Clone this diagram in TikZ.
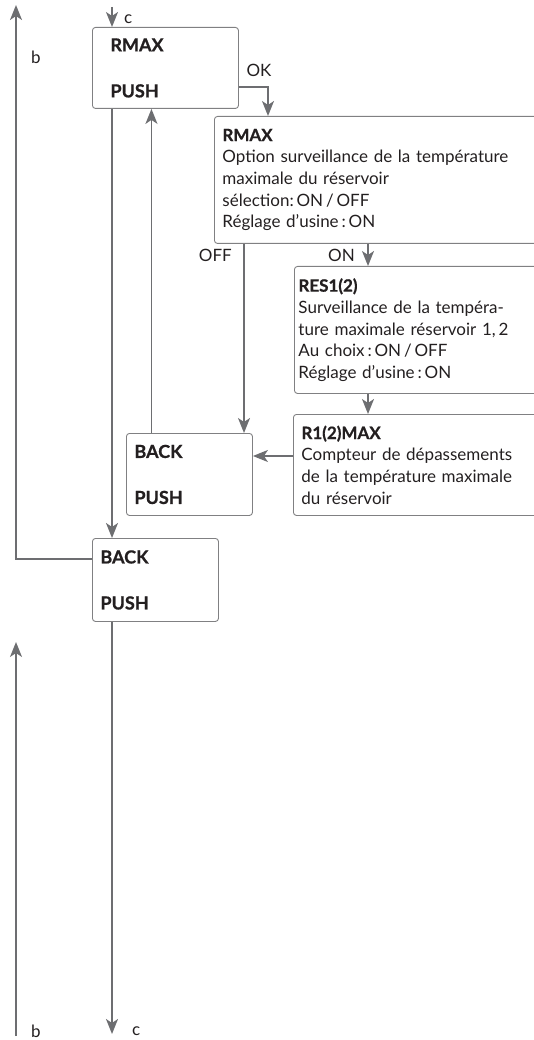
\documentclass[tikz,border=0pt]{standalone}
\usepackage{fontspec}
\setmainfont{Lato}[BoldFeatures={FakeBold=0.8}]
\usepackage{xcolor}
\definecolor{linegray}{RGB}{109, 110, 113}
\definecolor{boxgray}{RGB}{128, 128, 130}
\definecolor{textdark}{RGB}{35, 31, 32}
\usetikzlibrary{arrows.meta,positioning,calc}

\begin{document}
\begin{tikzpicture}[
  x=1pt, y=-1pt,
  every node/.style={text=textdark, font=\fontsize{17}{21.7}\selectfont},
  menubox/.style={draw=boxgray, rounded corners=3pt, line width=0.9pt, anchor=north west, align=left, inner xsep=8pt, inner ysep=0pt},
  keybox/.style={menubox, text width=110pt, font=\fontsize{18}{20}\selectfont\bfseries},
  infobox/.style={menubox, text width=330pt},
  arrow/.style={-{Stealth[length=15pt, width=12pt, inset=4pt]}, line width=1.8pt, color=linegray},
  tag/.style={font=\fontsize{17}{18}\selectfont, inner sep=1pt}
]
\useasboundingbox (0,0) rectangle (534,1040);

% Menu boxes
\node[keybox, minimum width=146pt, minimum height=81pt] (rmaxA) at (92,27) {RMAX\\[26pt]PUSH};
\node[infobox, minimum height=127pt] (rmaxB) at (214,116) {\textbf{RMAX}\\Option surveillance de la température\\maximale du réservoir\\sélection:\,ON\,/\,OFF\\Réglage d’usine\,:\,ON};
\node[infobox, minimum height=127pt, inner xsep=4pt] (res) at (294,266) {\textbf{RES1(2)}\\Surveillance de la tempéra-\\ture maximale réservoir 1,\,2\\Au choix\,:\,ON\,/\,OFF\\Réglage d’usine\,:\,ON};
\node[infobox, minimum height=101pt] (rmaxC) at (293,414) {\textbf{R1(2)MAX}\\Compteur de dépassements\\de la température maximale\\du réservoir};
\node[keybox, minimum width=126pt, minimum height=82pt] (backA) at (126,433) {BACK\\[26pt]PUSH};
\node[keybox, minimum width=126pt, minimum height=83pt] (backB) at (92,538) {BACK\\[26pt]PUSH};

% Free ends
\coordinate (cTop) at (112,7);
\coordinate (bTop) at (16,5);
\coordinate (cBot) at (112,1034);
\coordinate (bBot) at (16,1036);
\coordinate (bMid) at (16,642);
\coordinate (onX) at ([xshift=74pt]res.north west);
\coordinate (offX) at ([xshift=30pt]rmaxB.south west);
\coordinate (upX) at ([xshift=-38pt]backA.north);
\coordinate (cntY) at ([yshift=-42pt]rmaxC.north west);

% Connections
\draw[arrow] (cTop) -- (cTop |- rmaxA.north);
\node[tag, anchor=west] (cTopTag) at (123,19) {c};
\draw[arrow] ([yshift=-21pt]backB.north west) -| (bTop);
\node[tag, anchor=west] (bTopTag) at (30,57) {b};

\draw[arrow] ([yshift=-19pt]rmaxA.east) -| ([xshift=54pt]rmaxB.north west);
\node[tag, anchor=south] (okTag) at (259,78) {OK};

\draw[arrow] (cTop |- rmaxA.south) -- (cTop |- backB.north);
\draw[arrow] (upX) -- (upX |- rmaxA.south);

\draw[arrow] (offX) -- (offX |- backA.north);
\node[tag, anchor=east] (offTag) at (233,255) {OFF};
\draw[arrow] (onX |- rmaxB.south) -- (onX);
\node[tag, anchor=east] (onTag) at (356,255) {ON};
\draw[arrow] (onX |- res.south) -- (onX |- rmaxC.north);
\draw[arrow] (cntY) -- (cntY -| backA.east);

\draw[arrow] (cTop |- backB.south) -- (cBot);
\node[tag, anchor=west] (cBotTag) at (131,1031) {c};
\draw[arrow] (bBot) -- (bMid);
\node[tag, anchor=west] (bBotTag) at (30,1031) {b};

\end{tikzpicture}
\end{document}
